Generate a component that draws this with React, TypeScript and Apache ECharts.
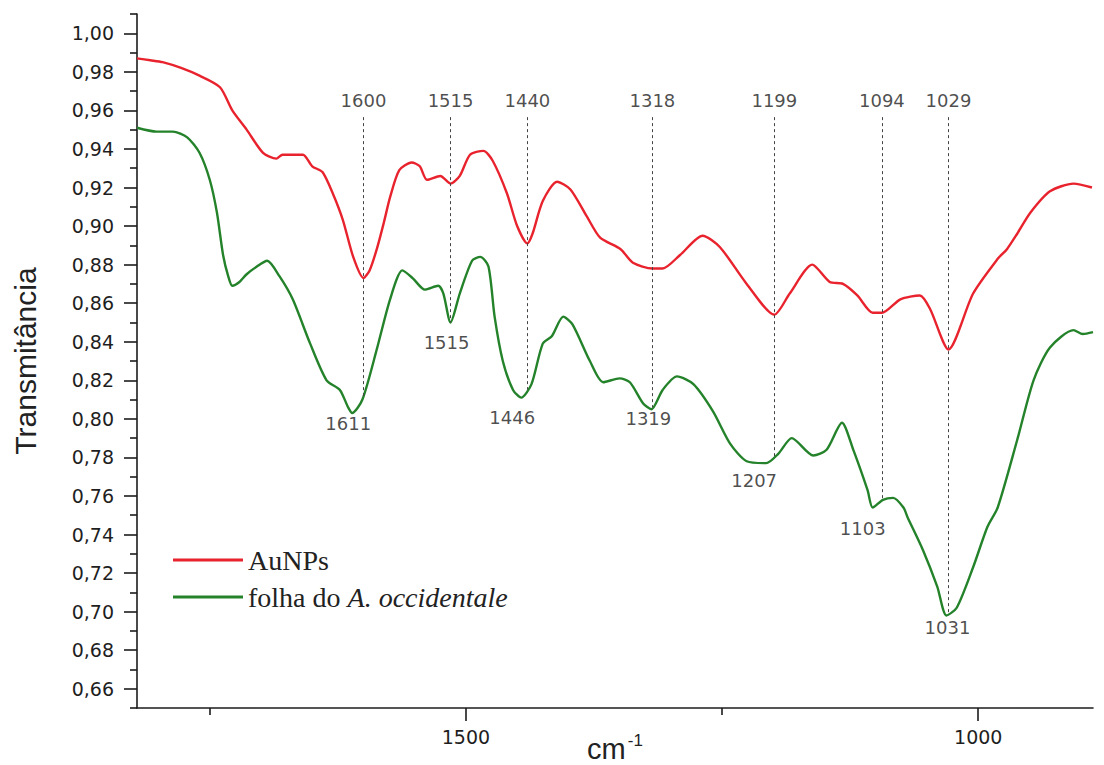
import React, { useEffect, useRef } from "react";
import * as echarts from "echarts";

// FTIR spectra: transmittance vs wavenumber (cm-1)
const redWn = [1821, 1808, 1796, 1778, 1760, 1740, 1728, 1714, 1698, 1685, 1679, 1668, 1659, 1650, 1640, 1630, 1620, 1610, 1600, 1594, 1587, 1580, 1574, 1565, 1553, 1545, 1538, 1525, 1515, 1506, 1496, 1483, 1474, 1460, 1450, 1440, 1435, 1425, 1411, 1398, 1382, 1369, 1349, 1337, 1318, 1308, 1291, 1269, 1252, 1226, 1199, 1184, 1162, 1145, 1132, 1118, 1103, 1094, 1076, 1057, 1047, 1029, 1005, 981, 972, 962, 949, 930, 907, 889];
const redT = [0.987, 0.986, 0.985, 0.982, 0.978, 0.972, 0.96, 0.95, 0.938, 0.935, 0.937, 0.937, 0.937, 0.931, 0.928, 0.917, 0.903, 0.884, 0.873, 0.877, 0.888, 0.902, 0.915, 0.929, 0.933, 0.931, 0.924, 0.926, 0.922, 0.926, 0.937, 0.939, 0.934, 0.917, 0.9, 0.891, 0.896, 0.913, 0.923, 0.919, 0.905, 0.894, 0.888, 0.881, 0.878, 0.878, 0.885, 0.895, 0.889, 0.87, 0.854, 0.865, 0.88, 0.871, 0.87, 0.864, 0.855, 0.855, 0.862, 0.864, 0.857, 0.836, 0.865, 0.883, 0.888, 0.896, 0.907, 0.918, 0.922, 0.92];

const greenWn = [1821, 1802, 1786, 1772, 1760, 1750, 1743, 1737, 1732, 1728, 1721, 1714, 1704, 1694, 1682, 1669, 1652, 1636, 1623, 1615, 1611, 1601, 1587, 1574, 1562, 1552, 1540, 1527, 1522, 1515, 1506, 1494, 1486, 1478, 1472, 1464, 1454, 1446, 1436, 1425, 1416, 1405, 1396, 1379, 1366, 1350, 1340, 1327, 1319, 1308, 1294, 1278, 1259, 1242, 1226, 1207, 1195, 1182, 1161, 1148, 1133, 1122, 1108, 1103, 1093, 1083, 1073, 1069, 1054, 1040, 1031, 1021, 1005, 991, 981, 962, 946, 930, 907, 898, 888];
const greenT = [0.951, 0.949, 0.949, 0.946, 0.938, 0.924, 0.907, 0.885, 0.874, 0.869, 0.871, 0.875, 0.879, 0.882, 0.874, 0.862, 0.839, 0.82, 0.815, 0.806, 0.803, 0.81, 0.836, 0.862, 0.877, 0.873, 0.867, 0.869, 0.865, 0.85, 0.865, 0.882, 0.884, 0.879, 0.853, 0.83, 0.815, 0.811, 0.818, 0.839, 0.843, 0.853, 0.849, 0.83, 0.819, 0.821, 0.819, 0.808, 0.805, 0.815, 0.822, 0.818, 0.804, 0.787, 0.778, 0.777, 0.782, 0.79, 0.781, 0.784, 0.798, 0.784, 0.763, 0.754, 0.758, 0.759, 0.754, 0.749, 0.732, 0.713, 0.698, 0.702, 0.723, 0.744, 0.754, 0.789, 0.82, 0.837, 0.846, 0.844, 0.845];

// Band assignments
const redPeaks = [1600, 1515, 1440, 1318, 1199, 1094, 1029];
const greenPeaks = [1611, 1515, 1446, 1319, 1207, 1103, 1031];
const greenPeakLabelT = [0.7976, 0.8397, 0.8007, 0.8002, 0.7681, 0.7432, 0.6918];
const greenLabelShift = [-4, -4, -9, -3, -12, -10, 1];
const topLabelLevel = 0.9653;
const dashTopLevel = 0.9565;

// Axis ticks
const xTickValues = [1500, 1000];
const xMinorTickValues = [1750, 1250];
const yTickValues = [0.66, 0.68, 0.7, 0.72, 0.74, 0.76, 0.78, 0.8, 0.82, 0.84, 0.86, 0.88, 0.9, 0.92, 0.94, 0.96, 0.98, 1.0];
const yMinorTickValues = [0.65, 0.67, 0.69, 0.71, 0.73, 0.75, 0.77, 0.79, 0.81, 0.83, 0.85, 0.87, 0.89, 0.91, 0.93, 0.95, 0.97, 0.99, 1.01];

const RED = "#e8232d";
const GREEN = "#24832a";
const INK = "#1c1c1c";

const zip = (xs: number[], ys: number[]) => xs.map((x, i) => [x, ys[i]]);

// linear interpolation on the leaf spectrum (wavenumbers descending)
function greenAt(w: number): number {
  for (let i = 0; i < greenWn.length - 1; i++) {
    const a = greenWn[i];
    const b = greenWn[i + 1];
    if (w <= a && w >= b) {
      const t = (a - w) / (a - b);
      return greenT[i] + t * (greenT[i + 1] - greenT[i]);
    }
  }
  return greenT[greenT.length - 1];
}

export default function App() {
  const ref = useRef<HTMLDivElement>(null);

  useEffect(() => {
    if (!ref.current) return;
    const chart = echarts.init(ref.current, undefined, { renderer: "svg" });
    const axisLineStyle = { color: INK, width: 1.6 };
    const numFont = { color: "#1e1e1e", fontSize: 19, fontFamily: "DejaVu Sans" };

    const option: any = {
      animation: false,
      backgroundColor: "#ffffff",
      grid: { left: 137, right: 11, top: 14, bottom: 57, outerBoundsMode: "none" },
      xAxis: [
        {
          type: "value",
          inverse: true,
          min: 888,
          max: 1821,
          position: "bottom",
          name: "{b|cm}{s|-1}",
          nameLocation: "middle",
          nameGap: 24,
          nameMoveOverlap: false,
          nameTextStyle: {
            rich: {
              b: { fontSize: 29, fontFamily: "Liberation Sans", color: "#222", lineHeight: 34 },
              s: { fontSize: 17, fontFamily: "Liberation Sans", color: "#222", verticalAlign: "top", padding: [0, 0, 0, 2] },
            },
          },
          axisLine: { lineStyle: axisLineStyle },
          axisTick: { customValues: xTickValues, length: 13, lineStyle: axisLineStyle },
          axisLabel: { customValues: xTickValues, margin: 19, formatter: (v: number) => String(v), ...numFont },
          splitLine: { show: false },
        },
        {
          type: "value",
          inverse: true,
          min: 888,
          max: 1821,
          position: "bottom",
          axisLine: { show: false },
          axisLabel: { show: false },
          axisTick: { customValues: xMinorTickValues, length: 7, lineStyle: axisLineStyle },
          splitLine: { show: false },
        },
      ],
      yAxis: [
        {
          type: "value",
          min: 0.65,
          max: 1.01,
          position: "left",
          name: "Transmitância",
          nameLocation: "middle",
          nameRotate: 90,
          nameGap: 97,
          nameMoveOverlap: false,
          nameTextStyle: { fontSize: 30, fontFamily: "Liberation Sans", color: "#222" },
          axisLine: { show: true, lineStyle: axisLineStyle },
          axisTick: { show: true, customValues: yTickValues, length: 13, lineStyle: axisLineStyle },
          axisLabel: {
            customValues: yTickValues,
            margin: 23,
            formatter: (v: number) => v.toFixed(2).replace(".", ","),
            ...numFont,
          },
          splitLine: { show: false },
        },
        {
          type: "value",
          min: 0.65,
          max: 1.01,
          position: "left",
          axisLine: { show: false },
          axisLabel: { show: false },
          axisTick: { show: true, customValues: yMinorTickValues, length: 7, lineStyle: axisLineStyle },
          splitLine: { show: false },
        },
      ],
      legend: {
        data: ["AuNPs", "folha do A. occidentale"],
        orient: "vertical",
        left: 168,
        top: 541,
        itemGap: 9,
        itemWidth: 70,
        itemHeight: 3,
        icon: "rect",
        formatter: (name: string) =>
          name === "folha do A. occidentale" ? "folha do {i|A. occidentale}" : name,
        textStyle: {
          fontFamily: "Liberation Serif",
          fontSize: 28,
          color: "#222",
          rich: {
            i: { fontFamily: "Liberation Serif", fontSize: 28, fontStyle: "italic", color: "#222" },
          },
        },
      },
      series: [
        {
          name: "AuNPs",
          type: "line",
          data: zip(redWn, redT),
          showSymbol: false,
          smooth: 0.25,
          color: RED,
          lineStyle: { color: RED, width: 2.4 },
          z: 3,
        },
        {
          name: "folha do A. occidentale",
          type: "line",
          data: zip(greenWn, greenT),
          showSymbol: false,
          smooth: 0.25,
          color: GREEN,
          lineStyle: { color: GREEN, width: 2.4 },
          z: 3,
        },
        {
          type: "scatter",
          symbolSize: 0,
          silent: true,
          data: redPeaks.map((w) => [w, topLabelLevel]),
          label: {
            show: true,
            position: "inside",
            formatter: (p: any) => String(p.value[0]),
            fontSize: 18,
            fontFamily: "DejaVu Sans",
            color: "#1e1e1e",
          },
          markLine: {
            silent: true,
            symbol: ["none", "none"],
            label: { show: false },
            lineStyle: { type: [3, 3], color: "#444", width: 1 },
            data: redPeaks.map((w) => [
              { coord: [w, dashTopLevel] },
              { coord: [w, greenAt(w)] },
            ]),
          },
          z: 2,
        },
        {
          type: "scatter",
          symbolSize: 0,
          silent: true,
          data: greenPeaks.map((w, i) => ({
            value: [w, greenPeakLabelT[i]],
            label: { offset: [greenLabelShift[i], 0] },
          })),
          label: {
            show: true,
            position: "inside",
            formatter: (p: any) => String(p.value[0]),
            fontSize: 18,
            fontFamily: "DejaVu Sans",
            color: "#1e1e1e",
          },
          z: 4,
        },
      ],
    };

    chart.setOption(option);
    return () => chart.dispose();
  }, []);

  return (
    <div
      ref={ref}
      style={{ position: "fixed", left: 0, top: 0, width: 1104, height: 765, background: "#fff" }}
    />
  );
}
